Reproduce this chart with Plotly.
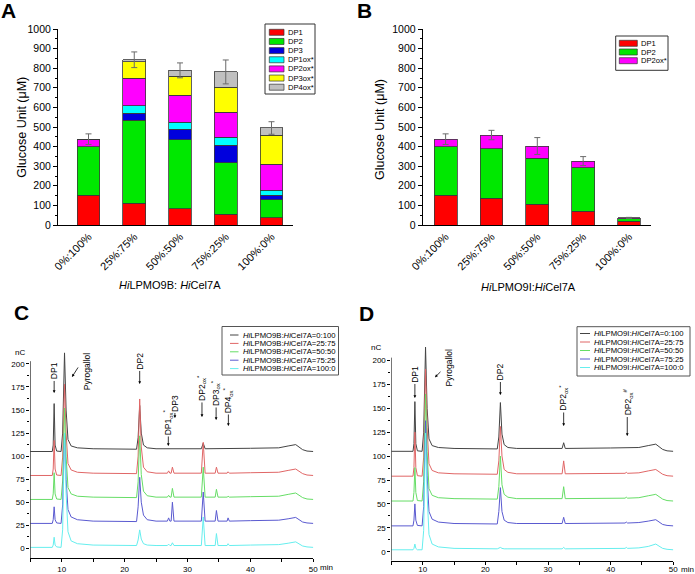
import plotly.graph_objects as go

W, H = 695, 574
FONT = "Liberation Sans, Arial, sans-serif"

# ---------------- data: panel A / B (stacked bars) ----------------
ratios = ["0%:100%", "25%:75%", "50%:50%", "75%:25%", "100%:0%"]

a_series = ["DP1", "DP2", "DP3", "DP1ox*", "DP2ox*", "DP3ox*", "DP4ox*"]
a_DP1 = [152, 112, 82, 56, 36]
a_DP2 = [248, 422, 353, 262, 92]
a_DP3 = [0, 37, 53, 90, 25]
a_DP1ox = [0, 38, 36, 39, 24]
a_DP2ox = [38, 139, 138, 128, 134]
a_DP3ox = [0, 84, 98, 129, 146]
a_DP4ox = [0, 11, 29, 77, 38]
a_err = [27, 40, 38, 61, 32]

b_series = ["DP1", "DP2", "DP2ox*"]
b_DP1 = [152, 136, 107, 71, 20]
b_DP2 = [248, 253, 233, 220, 11]
b_DP2ox = [38, 70, 63, 35, 5]
b_err = [27, 24, 43, 23, 3]

bar_colors = {"DP1": "#ff0000", "DP2": "#00e800", "DP3": "#0000dd", "DP1ox*": "#00ffff",
              "DP2ox*": "#ff00ff", "DP3ox*": "#ffff00", "DP4ox*": "#c0c0c0"}

# ---------------- data: panel C (HiLPMO9B chromatograms) ----------------
c_names = ["<i>Hi</i>LPMO9B:<i>Hi</i>Cel7A=0:100", "<i>Hi</i>LPMO9B:<i>Hi</i>Cel7A=25:75",
           "<i>Hi</i>LPMO9B:<i>Hi</i>Cel7A=50:50", "<i>Hi</i>LPMO9B:<i>Hi</i>Cel7A=75:25",
           "<i>Hi</i>LPMO9B:<i>Hi</i>Cel7A=100:0"]
c_t_0 = [5, 8.5, 8.65, 8.8, 8.95, 9.2, 9.9, 10.15, 10.45, 10.7, 11.0, 11.5, 12.5, 15, 21.9, 22.15,
         22.4, 22.65, 23.0, 23.6, 25, 32.2, 32.5, 32.8, 40, 44.5, 46, 47.2, 48.3, 49, 50]
c_s_0 = [105, 105, 112, 157, 112, 105.5, 105, 125, 212, 150, 118, 111, 109, 108, 107.5, 120,
         155, 125, 112, 109, 108, 108, 114, 108, 108.5, 109, 111, 112.5, 107, 105.5, 105]
c_t = [5, 8.5, 8.65, 8.8, 8.95, 9.2, 9.9, 10.15, 10.45, 10.7, 11.0, 11.5, 12.5, 15, 21.9, 22.15,
       22.4, 22.65, 23.0, 23.6, 25, 26.8, 27.0, 27.2, 27.4, 27.6, 27.85, 32.2, 32.5, 32.8, 34.4,
       34.6, 34.85, 36.3, 36.45, 36.65, 40, 44.5, 46, 47.2, 48.3, 49, 50]
c_s_25 = [79, 79, 86, 117, 86, 79.5, 79, 99, 178, 125, 92, 85, 82.5, 81.5, 81, 100,
          162, 110, 88, 83, 81.5, 81.5, 84, 81.5, 81.5, 88, 81.5, 81.5, 115, 81.5, 81.5,
          88, 81.5, 81.5, 83, 81.5, 82, 82.5, 84.5, 86, 81, 79.5, 79]
c_s_50 = [53, 53, 59, 82, 59, 53.5, 53, 73, 152, 100, 66, 59, 56.5, 55.5, 55, 72,
          122, 80, 62, 57, 55.5, 55.5, 57.5, 55.5, 55.5, 65, 55.5, 55.5, 88, 55.5, 55.5,
          64, 55.5, 55.5, 56.5, 55.5, 56, 56.5, 58.5, 60, 55, 53.5, 53]
c_s_75 = [27, 27, 31, 45, 31, 27.5, 27, 47, 125, 75, 42, 34, 31, 29.5, 29, 45,
          77, 50, 36, 31, 29.5, 29.5, 33, 29.5, 29.5, 50, 29.5, 29.5, 61, 29.5, 29.5,
          41, 29.5, 29.5, 33, 29.5, 30, 30.5, 32, 33.5, 28.5, 27.5, 27]
c_s_100 = [1, 1, 3.5, 12, 3.5, 1.5, 1, 20, 125, 60, 18, 8, 5, 3.5, 3, 9,
           20, 10, 5, 3.5, 3, 3, 4.5, 3, 3, 6, 3, 3, 34, 3, 3,
           16, 3, 3, 5, 3, 3.5, 4, 5.5, 7, 2.5, 1.5, 1]

# ---------------- data: panel D (HiLPMO9I chromatograms) ----------------
d_names = ["<i>Hi</i>LPMO9I:<i>Hi</i>Cel7A=0:100", "<i>Hi</i>LPMO9I:<i>Hi</i>Cel7A=25:75",
           "<i>Hi</i>LPMO9I:<i>Hi</i>Cel7A=50:50", "<i>Hi</i>LPMO9I:<i>Hi</i>Cel7A=75:25",
           "<i>Hi</i>LPMO9I:<i>Hi</i>Cel7A=100:0"]
d_t_0 = [5, 8.45, 8.6, 8.75, 8.9, 9.15, 9.9, 10.15, 10.45, 10.7, 11.0, 11.5, 12.5, 15, 21.9, 22.15,
         22.4, 22.65, 23.0, 23.6, 25, 32.25, 32.5, 32.75, 40, 44.5, 46, 47.2, 48.3, 49, 50]
d_s_0 = [105, 105, 113, 157, 113, 105.5, 105, 125, 214, 150, 118, 111, 109, 108, 107.5, 120,
         156, 123, 112, 109, 108, 108, 114, 108, 108.5, 109, 111, 112.5, 107, 105.5, 105]
d_t = [5, 8.45, 8.6, 8.75, 8.9, 9.15, 9.9, 10.15, 10.45, 10.7, 11.0, 11.5, 12.5, 15, 21.9, 22.15,
       22.4, 22.65, 23.0, 23.6, 25, 32.25, 32.5, 32.75, 42.3, 42.5, 42.7, 44.5, 46, 47.2, 48.3, 49, 50]
d_s_25 = [79, 79, 88, 125, 88, 79.5, 79, 99, 191, 130, 92, 85, 82.5, 81.5, 81, 95,
          131, 100, 86, 83, 81.5, 81.5, 95, 81.5, 82, 83, 82, 82.5, 84.5, 86, 81, 79.5, 79]
d_s_50 = [53, 53, 62, 88, 62, 53.5, 53, 73, 165, 105, 66, 59, 56.5, 55.5, 55, 68,
          100, 70, 60, 57, 55.5, 55.5, 68, 55.5, 56, 57, 56, 56.5, 58.5, 60, 55, 53.5, 53]
d_s_75 = [27, 27, 33, 50, 33, 27.5, 27, 47, 137, 80, 42, 34, 31, 29.5, 29, 42,
          67, 42, 33, 30.5, 29.5, 29.5, 36, 29.5, 30, 31, 30, 30.5, 32, 33.5, 28.5, 27.5, 27]
d_s_100 = [2, 2, 3.5, 8, 3.5, 2, 2, 22, 124, 60, 18, 8, 5, 3.5, 3, 3.5,
           4.5, 3.5, 3, 3, 3, 3, 4.5, 3, 3.5, 4.5, 3.5, 4, 5.5, 8, 3.5, 2.5, 2]

line_colors = ["#444444", "#e06666", "#66dd66", "#5a5ad0", "#66eeee"]


def fx(p):
    return p / W


def fy(p):
    return 1 - p / H


fig = go.Figure()

# ---- Panel A bars ----
a_vals = [a_DP1, a_DP2, a_DP3, a_DP1ox, a_DP2ox, a_DP3ox, a_DP4ox]
for name, vals in zip(a_series, a_vals):
    fig.add_trace(go.Bar(x=ratios, y=vals, name=name, width=0.5, showlegend=False,
                         marker=dict(color=bar_colors[name], line=dict(color="#3a3a3a", width=0.8)),
                         xaxis="x", yaxis="y"))
a_tot = [sum(v) for v in zip(*a_vals)]
fig.add_trace(go.Scatter(x=ratios, y=a_tot, mode="markers", showlegend=False,
                         marker=dict(size=1, color="rgba(0,0,0,0)"),
                         error_y=dict(type="data", array=a_err, color="#6a6a6a", thickness=1, width=3),
                         xaxis="x", yaxis="y", hoverinfo="skip"))

# ---- Panel B bars ----
b_vals = [b_DP1, b_DP2, b_DP2ox]
for name, vals in zip(b_series, b_vals):
    fig.add_trace(go.Bar(x=ratios, y=vals, name=name, width=0.5, showlegend=False,
                         marker=dict(color=bar_colors[name], line=dict(color="#3a3a3a", width=0.8)),
                         xaxis="x2", yaxis="y2"))
b_tot = [sum(v) for v in zip(*b_vals)]
fig.add_trace(go.Scatter(x=ratios, y=b_tot, mode="markers", showlegend=False,
                         marker=dict(size=1, color="rgba(0,0,0,0)"),
                         error_y=dict(type="data", array=b_err, color="#6a6a6a", thickness=1, width=3),
                         xaxis="x2", yaxis="y2", hoverinfo="skip"))

# ---- Panel C lines ----
c_data = [(c_t_0, c_s_0), (c_t, c_s_25), (c_t, c_s_50), (c_t, c_s_75), (c_t, c_s_100)]
for (t, s), nm, col in zip(c_data, c_names, line_colors):
    fig.add_trace(go.Scatter(x=t, y=s, mode="lines", name=nm, showlegend=False,
                             line=dict(color=col, width=1), xaxis="x3", yaxis="y3"))

# ---- Panel D lines ----
d_data = [(d_t_0, d_s_0), (d_t, d_s_25), (d_t, d_s_50), (d_t, d_s_75), (d_t, d_s_100)]
for (t, s), nm, col in zip(d_data, d_names, line_colors):
    fig.add_trace(go.Scatter(x=t, y=s, mode="lines", name=nm, showlegend=False,
                             line=dict(color=col, width=1), xaxis="x4", yaxis="y4"))

bar_y = dict(range=[0, 1000], dtick=100, tick0=0, ticks="outside", ticklen=4, tickwidth=1,
             minor=dict(ticks="outside", ticklen=2, dtick=50, tickcolor="black"),
             showline=True, linecolor="black", linewidth=1, showgrid=False, zeroline=False,
             automargin=False,
             tickfont=dict(size=10.5, color="black", family=FONT), tickcolor="black")
bar_x = dict(type="category", ticks="", showline=True, linecolor="black", linewidth=1,
             showgrid=False, zeroline=False, tickangle=-45, automargin=False,
             tickfont=dict(size=11, color="black", family=FONT))

minor_c = [12.5 + 25 * k for k in range(8)]
chrom_y = dict(dtick=25, tick0=0, ticks="outside", ticklen=3, tickwidth=1, tickcolor="black",
               minor=dict(ticks="outside", ticklen=2, tickvals=minor_c, tickcolor="black"),
               showline=False, showgrid=False, zeroline=False, automargin=False,
               tickfont=dict(size=8, color="black", family=FONT))
chrom_x = dict(range=[5, 50], dtick=10, tick0=10, ticks="outside", ticklen=3, tickwidth=1,
               tickcolor="black", minor=dict(ticks="outside", ticklen=3, dtick=5, tickcolor="black"),
               showline=True, linecolor="black", linewidth=1, showgrid=False, zeroline=False,
               automargin=False,
               tickfont=dict(size=8, color="black", family=FONT))

fig.update_layout(
    template="none",
    width=W, height=H, autosize=False, margin=dict(l=0, r=0, t=0, b=0, pad=0),
    paper_bgcolor="white", plot_bgcolor="white", barmode="stack", showlegend=False,
    font=dict(family=FONT, color="black"),
    xaxis=dict(domain=[fx(58), fx(293)], anchor="y", range=[-0.667, 4.47], **bar_x),
    yaxis=dict(domain=[fy(225), fy(29)], anchor="x", **bar_y),
    xaxis2=dict(domain=[fx(422.7), fx(651)], anchor="y2", range=[-0.5, 4.48], **bar_x),
    yaxis2=dict(domain=[fy(225), fy(29)], anchor="x2", **bar_y),
    xaxis3=dict(domain=[fx(30.25), fx(313.3)], anchor="y3", **chrom_x),
    yaxis3=dict(domain=[fy(558.3), fy(349.2)], anchor="x3", range=[-10.85, 216], **chrom_y),
    xaxis4=dict(domain=[fx(391.4), fx(673.3)], anchor="y4", ticklabelstandoff=-2, **chrom_x),
    yaxis4=dict(domain=[fy(560.7), fy(345.2)], anchor="x4", range=[-9.41, 216], **chrom_y),
)

shapes = []
ann = []

# chromatogram y-axis lines (stop a little above 200)
shapes.append(dict(type="line", xref="x3", yref="y3", x0=5, x1=5, y0=-10.85, y1=203,
                   line=dict(color="black", width=1)))
shapes.append(dict(type="line", xref="x4", yref="y4", x0=5, x1=5, y0=-9.41, y1=203,
                   line=dict(color="black", width=1)))

# panel letters
for letter, cx, cy in [("A", 8, 11), ("B", 364, 10.5), ("C", 21.5, 312.5), ("D", 366.5, 314)]:
    ann.append(dict(text="<b>%s</b>" % letter, x=fx(cx), y=fy(cy), xref="paper", yref="paper",
                    showarrow=False, xanchor="center", yanchor="middle",
                    font=dict(size=21, family=FONT, color="black")))

# bar axis titles
for cx, cy, txt in [(170, 285, "<i>Hi</i>LPMO9B: <i>Hi</i>Cel7A"), (528, 287, "<i>Hi</i>LPMO9I:<i>Hi</i>Cel7A")]:
    ann.append(dict(text=txt, x=fx(cx), y=fy(cy), xref="paper", yref="paper", showarrow=False,
                    xanchor="center", yanchor="middle", font=dict(size=11, family=FONT)))
for cx, cy in [(21.7, 127), (380, 130)]:
    ann.append(dict(text="Glucose Unit (μM)", x=fx(cx), y=fy(cy), xref="paper", yref="paper",
                    showarrow=False, textangle=-90, xanchor="center", yanchor="middle",
                    font=dict(size=12.5, family=FONT)))

# nC / min labels
for cx, cy, txt in [(19.5, 352, "nC"), (376, 347, "nC"), (326, 567.3, "min"), (687, 569, "min")]:
    ann.append(dict(text=txt, x=fx(cx), y=fy(cy), xref="paper", yref="paper", showarrow=False,
                    xanchor="center", yanchor="middle", font=dict(size=8, family=FONT)))

# peak labels with arrows
lab_font = dict(size=8.5, family=FONT, color="black")
c_labels = [("DP1", 8.8, 168.5, -22), ("DP2", 22.4, 178.3, -23),
            ("DP1<sub>ox</sub><sup>*</sup>", 26.95, 111.0, -24), ("DP3", 28.0, 141.4, -15),
            ("DP2<sub>ox</sub><sup>*</sup>", 32.3, 142.5, -29), ("DP3<sub>ox</sub><sup>*</sup>", 34.55, 139.2, -27),
            ("DP4<sub>ox</sub><sup>*</sup>", 36.5, 132.7, -26)]
for txt, x, y, ay in c_labels:
    ann.append(dict(text=txt, x=x, y=y, xref="x3", yref="y3", showarrow=True, ax=0, ay=ay,
                    textangle=-90, arrowhead=2, arrowsize=0.7, arrowwidth=0.8, arrowcolor="black",
                    font=lab_font))
d_labels = [("DP1", 8.75, 160.8, -24), ("DP2", 22.4, 163.9, -23),
            ("DP2<sub>ox</sub><sup>*</sup>", 32.5, 131.5, -28), ("DP2<sub>ox</sub><sup>#</sup>", 42.65, 121.0, -34)]
for txt, x, y, ay in d_labels:
    ann.append(dict(text=txt, x=x, y=y, xref="x4", yref="y4", showarrow=True, ax=0, ay=ay,
                    textangle=-90, arrowhead=2, arrowsize=0.7, arrowwidth=0.8, arrowcolor="black",
                    font=lab_font))
# Pyrogallol labels and diagonal arrows
ann.append(dict(text="Pyrogallol", x=13.97, y=191.8, xref="x3", yref="y3", showarrow=False,
                textangle=-90, font=lab_font))
ann.append(dict(text="Pyrogallol", x=14.35, y=192.7, xref="x4", yref="y4", showarrow=False,
                textangle=-90, font=lab_font))
ann.append(dict(text="", x=11.64, y=185.9, xref="x3", yref="y3", showarrow=True, ax=7, ay=-11,
                arrowhead=2, arrowsize=0.7, arrowwidth=0.8, arrowcolor="black"))
ann.append(dict(text="", x=11.96, y=182.4, xref="x4", yref="y4", showarrow=True, ax=7, ay=-7,
                arrowhead=2, arrowsize=0.7, arrowwidth=0.8, arrowcolor="black"))


# ---- manual legends ----
def rect_px(x0, y0, x1, y1, fill, line_col, lw):
    return dict(type="rect", xref="paper", yref="paper", x0=fx(x0), x1=fx(x1), y0=fy(y1), y1=fy(y0),
                fillcolor=fill, line=dict(color=line_col, width=lw))


def legend_text(txt, x, y, size):
    return dict(text=txt, x=fx(x), y=fy(y), xref="paper", yref="paper", showarrow=False,
                xanchor="left", yanchor="middle", font=dict(size=size, family=FONT, color="black"))


# legend A
shapes.append(rect_px(265, 24, 315, 94, "white", "#333333", 1))
for i, name in enumerate(a_series):
    yy = 32.3 + 9.15 * i
    shapes.append(rect_px(269.3, yy - 3, 284, yy + 3, bar_colors[name], "#333333", 0.7))
    ann.append(legend_text(name, 285.5, yy, 7.6))
# legend B
shapes.append(rect_px(615.7, 36, 668, 70.3, "white", "#333333", 1))
for i, name in enumerate(b_series):
    yy = 43.3 + 8.7 * i
    shapes.append(rect_px(619.3, yy - 3, 637.3, yy + 3, bar_colors[name], "#333333", 0.7))
    ann.append(legend_text(name, 638.5, yy, 7.6))
# legend C
shapes.append(rect_px(222, 326.5, 338.5, 375, "white", "#555555", 1))
for i, (nm, col) in enumerate(zip(c_names, line_colors)):
    yy = 335 + 8.4 * i
    shapes.append(dict(type="line", xref="paper", yref="paper", x0=fx(230), x1=fx(238.5),
                       y0=fy(yy), y1=fy(yy), line=dict(color=col, width=1)))
    ann.append(legend_text(nm, 240.5, yy, 7.7))
# legend D
shapes.append(rect_px(577, 326.7, 690, 376, "white", "#555555", 1))
for i, (nm, col) in enumerate(zip(d_names, line_colors)):
    yy = 333.5 + 8.5 * i
    shapes.append(dict(type="line", xref="paper", yref="paper", x0=fx(580), x1=fx(590),
                       y0=fy(yy), y1=fy(yy), line=dict(color=col, width=1)))
    ann.append(legend_text(nm, 592.3, yy, 7.7))

fig.update_layout(shapes=shapes, annotations=ann)
fig.write_html("out.html", config={"displayModeBar": False},
               post_script="document.body.style.margin='0px';")
